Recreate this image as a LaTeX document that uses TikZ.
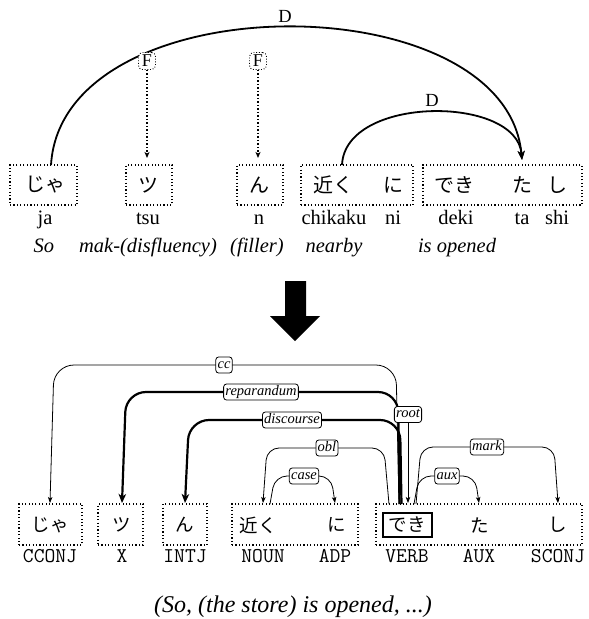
\documentclass[tikz,border=0pt]{standalone}
\usepackage{fontspec}
\setmainfont{Liberation Serif}
\newfontfamily\jp{Noto Sans CJK JP}
\usetikzlibrary{arrows.meta}
\begin{document}
\begin{tikzpicture}[x=1pt,y=-1pt,
  dbox/.style={draw, line width=1.1pt, dash pattern=on 1.1pt off 2.3pt, inner sep=0pt},
  vbox/.style={draw, line width=1.2pt, inner sep=0pt},
  jch/.style={font=\jp\fontsize{20}{20}\selectfont, inner sep=0pt},
  jchb/.style={font=\jp\fontsize{18.5}{18.5}\selectfont, inner sep=0pt},
  romtxt/.style={font=\fontsize{20.5}{20.5}\selectfont, inner sep=0pt, anchor=base},
  glosstxt/.style={font=\itshape\fontsize{20.5}{20.5}\selectfont, inner sep=0pt, anchor=base},
  postag/.style={font=\ttfamily\fontsize{21}{21}\selectfont\addfontfeature{LetterSpace=7}, inner sep=0pt, anchor=base},
  dlab/.style={font=\fontsize{18.5}{18.5}\selectfont, inner sep=0pt, anchor=base},
  flab/.style={draw, fill=white, line width=0.9pt, dash pattern=on 0.9pt off 1.8pt, rounded corners=4pt, inner sep=0.5pt, font=\fontsize{18}{18}\selectfont, minimum width=17pt, minimum height=17pt},
  deparc/.style={line width=1.8pt, -{Stealth[length=9pt,width=7pt,inset=2.5pt]}},
  farrow/.style={line width=1.1pt, dash pattern=on 1.5pt off 2pt, -{Stealth[length=6pt,width=5pt,inset=1.5pt]}},
  elab/.style={draw, fill=white, line width=0.8pt, rounded corners=3pt, inner sep=1.8pt, text height=9.5pt, text depth=3pt, font=\itshape\fontsize{14.5}{14.5}\selectfont},
  thinedge/.style={line width=0.8pt, rounded corners=12pt, -{Stealth[length=6pt,width=4.5pt,inset=1.5pt]}},
  ccedge/.style={line width=0.8pt, rounded corners=20pt, -{Stealth[length=6pt,width=4.5pt,inset=1.5pt]}},
  thickedge/.style={line width=2.2pt, rounded corners=20pt, -{Stealth[length=9pt,width=7.5pt,inset=2.5pt]}},
  bigarrow/.style={fill=black, draw=none},
  captxt/.style={font=\itshape\fontsize{24}{24}\selectfont, inner sep=0pt, anchor=base}
]
\useasboundingbox (0,0) rectangle (589,619);

% ---------------- top diagram ----------------
\node[dbox, minimum width=67pt, minimum height=40pt] (t1) at (43.5,185) {};
\node[dbox, minimum width=46pt, minimum height=40pt] (t2) at (149,185) {};
\node[dbox, minimum width=46pt, minimum height=40pt] (t3) at (260,185) {};
\node[dbox, minimum width=112pt, minimum height=40pt] (t4) at (357,185) {};
\node[dbox, minimum width=159pt, minimum height=40pt] (t5) at (502.5,185) {};

\node[jch] (tc1) at (45,185) {じゃ};
\node[jch] (tc2) at (148,185) {ツ};
\node[jch] (tc3) at (259,185) {ん};
\node[jch] (tc4) at (333,185) {近く};
\node[jch] (tc5) at (393,185) {に};
\node[jch] (tc6) at (454,185) {でき};
\node[jch] (tc7) at (522,185) {た};
\node[jch] (tc8) at (557,185) {し};

\node[romtxt] (r1) at (45,224) {ja};
\node[romtxt] (r2) at (148,224) {tsu};
\node[romtxt] (r3) at (259,224) {n};
\node[romtxt] (r4) at (334,224) {chikaku};
\node[romtxt] (r5) at (393,224) {ni};
\node[romtxt] (r6) at (456,224) {deki};
\node[romtxt] (r7) at (522,224) {ta};
\node[romtxt] (r8) at (557,224) {shi};

\node[glosstxt] (g1) at (44,252) {So};
\node[glosstxt] (g2) at (148,252) {mak-(disfluency)};
\node[glosstxt] (g3) at (257,252) {(filler)};
\node[glosstxt] (g4) at (334,252) {nearby};
\node[glosstxt] (g5) at (457,252) {is opened};

\coordinate (d1s) at (51,165);
\coordinate (d2s) at (342,165);
\coordinate (dend) at (522,160);
\draw[deparc] (d1s) .. controls (62,-18) and (506,-18) .. (dend);
\draw[deparc] (d2s) .. controls (345,95) and (517,95) .. (dend);
\node[dlab] (dl1) at (285,22.5) {D};
\node[dlab] (dl2) at (432,106) {D};

\node[flab] (f1) at (147,61) {F};
\node[flab] (f2) at (258,61) {F};
\coordinate (f1e) at (147,158);
\coordinate (f2e) at (258,158);
\draw[farrow] (f1.south) -- (f1e);
\draw[farrow] (f2.south) -- (f2e);

% ---------------- block arrow ----------------
\fill[bigarrow] (285,281) -- (306,281) -- (306,316) -- (320,316) -- (295,341) -- (270,316) -- (285,316) -- cycle;

% ---------------- bottom diagram ----------------
\node[dbox, minimum width=63pt, minimum height=41pt] (b1) at (50.5,524.5) {};
\node[dbox, minimum width=45pt, minimum height=41pt] (b2) at (120.5,524.5) {};
\node[dbox, minimum width=44pt, minimum height=41pt] (b3) at (185,524.5) {};
\node[dbox, minimum width=126pt, minimum height=41pt] (b4) at (295,524.5) {};
\node[dbox, minimum width=206pt, minimum height=41pt] (b5) at (479,524.5) {};
\node[vbox, minimum width=49pt, minimum height=24pt] (vb) at (407.5,525) {};

\node[jchb] (bc1) at (50,525) {じゃ};
\node[jchb] (bc2) at (122,525) {ツ};
\node[jchb] (bc3) at (185,525) {ん};
\node[jchb] (bc4) at (258,525) {近く};
\node[jchb] (bc5) at (337,525) {に};
\node[jchb] (bc6) at (407,525) {でき};
\node[jchb] (bc7) at (480,525) {た};
\node[jchb] (bc8) at (558,525) {し};

\node[postag] (p1) at (50,562) {CCONJ};
\node[postag] (p2) at (122,562) {X};
\node[postag] (p3) at (185,562) {INTJ};
\node[postag] (p4) at (263,562) {NOUN};
\node[postag] (p5) at (335,562) {ADP};
\node[postag] (p6) at (407,562) {VERB};
\node[postag] (p7) at (479,562) {AUX};
\node[postag] (p8) at (558,562) {SCONJ};

% edge end points on box tops
\coordinate (vcc) at (399,504);
\coordinate (vrep) at (399.5,504);
\coordinate (vdis) at (401.5,504);
\coordinate (vobl) at (389,504);
\coordinate (vaux) at (414,504);
\coordinate (vmark) at (416,504);
\coordinate (ecconj) at (50,503);
\coordinate (ex) at (122,503);
\coordinate (eintj) at (185,503);
\coordinate (enoun) at (263,503);
\coordinate (snoun) at (270,504);
\coordinate (eadp) at (335,503);
\coordinate (eaux) at (479,503);
\coordinate (esconj) at (558,503);
\coordinate (eroot) at (408,503);

\draw[ccedge] (vcc) -- (396,365) -- (54,365) -- (ecconj);
\draw[thickedge] (vrep) -- (398,392) -- (126,392) -- (ex);
\draw[thickedge] (vdis) -- (400,420) -- (189,420) -- (eintj);
\draw[thinedge] (vobl) -- (384,448) -- (267,448) -- (enoun);
\draw[thinedge] (snoun) -- (275,476) -- (331,476) -- (eadp);
\draw[thinedge] (vaux) -- (419,476) -- (475,476) -- (eaux);
\draw[thinedge] (vmark) -- (421,447) -- (554,447) -- (esconj);

\node[elab] (lcc) at (224,365) {cc};
\node[elab] (lrep) at (261,392) {reparandum};
\node[elab] (ldis) at (292,420) {discourse};
\node[elab] (lobl) at (327,448) {obl};
\node[elab] (lcase) at (304,476) {case};
\node[elab] (laux) at (447,476) {aux};
\node[elab] (lmark) at (487,447) {mark};
\node[elab] (lroot) at (408,414.5) {root};
\draw[thinedge] (lroot.south) -- (eroot);

\node[captxt] (cap) at (293,612) {(So, (the store) is opened, ...)};
\end{tikzpicture}
\end{document}
